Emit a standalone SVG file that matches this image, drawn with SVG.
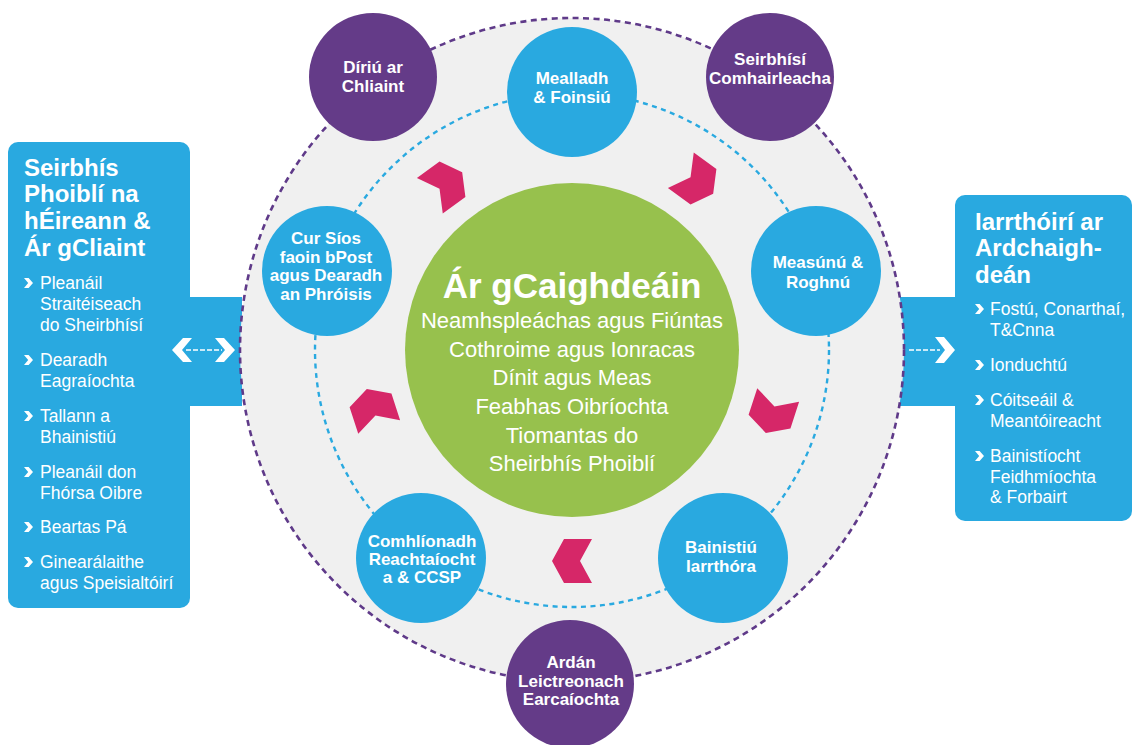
<svg xmlns="http://www.w3.org/2000/svg" xmlns:xlink="http://www.w3.org/1999/xlink" width="1134" height="745" viewBox="0 0 1134 745">
<defs>
<style>
.panel{fill:#29a9e0}
.bc{fill:#29a9e0}
.pc{fill:#643b88}
.t{font-family:"Liberation Sans",Arial,sans-serif;fill:#fff}
.ht{font-size:24px;font-weight:bold}
.li{font-size:17.5px}
.nt{font-size:17px;font-weight:bold;text-anchor:middle}
.ct{font-size:22px;text-anchor:middle}
.chev{fill:#d62768}
.wa{fill:#fff}
.wl{stroke:#fff;stroke-width:1.6;stroke-dasharray:5 2;fill:none}
</style>
<polygon id="chev" points="-20,0 -8,-22 20,-22 8,0 20,22 -8,22"/>
<polygon id="bul" points="0,0 4.6,0 9,5 4.6,10 0,10 4.2,5" fill="#fff"/>
</defs>
<rect width="1134" height="745" fill="#fff"/>

<g id="panel-left">
<rect class="panel" x="8" y="142" width="182" height="466" rx="10"/>
<rect class="panel" x="185" y="297" width="57" height="109"/>
<text class="t ht" x="24" y="176">Seirbhís</text>
<text class="t ht" x="24" y="202">Phoiblí na</text>
<text class="t ht" x="24" y="229">hÉireann &amp;</text>
<text class="t ht" x="24" y="256">Ár gCliaint</text>
<use xlink:href="#bul" x="24" y="278"/>
<text class="t li" x="40" y="289">Pleanáil</text>
<text class="t li" x="40" y="310">Straitéiseach</text>
<text class="t li" x="40" y="331">do Sheirbhísí</text>
<use xlink:href="#bul" x="24" y="355"/>
<text class="t li" x="40" y="366">Dearadh</text>
<text class="t li" x="40" y="387">Eagraíochta</text>
<use xlink:href="#bul" x="24" y="411"/>
<text class="t li" x="40" y="422">Tallann a</text>
<text class="t li" x="40" y="443">Bhainistiú</text>
<use xlink:href="#bul" x="24" y="467"/>
<text class="t li" x="40" y="478">Pleanáil don</text>
<text class="t li" x="40" y="499">Fhórsa Oibre</text>
<use xlink:href="#bul" x="24" y="522"/>
<text class="t li" x="40" y="533">Beartas Pá</text>
<use xlink:href="#bul" x="24" y="557"/>
<text class="t li" x="40" y="568">Ginearálaithe</text>
<text class="t li" x="40" y="589">agus Speisialtóirí</text>
</g>

<g id="panel-right">
<rect class="panel" x="955" y="195" width="177" height="326" rx="10"/>
<rect class="panel" x="900" y="297" width="60" height="109"/>
<text class="t ht" x="975" y="230">Iarrthóirí ar</text>
<text class="t ht" x="975" y="256">Ardchaigh-</text>
<text class="t ht" x="975" y="283">deán</text>
<use xlink:href="#bul" x="975" y="304"/>
<text class="t li" x="990" y="315">Fostú, Conarthaí,</text>
<text class="t li" x="990" y="336">T&amp;Cnna</text>
<use xlink:href="#bul" x="975" y="360"/>
<text class="t li" x="990" y="371">Ionduchtú</text>
<use xlink:href="#bul" x="975" y="395"/>
<text class="t li" x="990" y="406">Cóitseáil &amp;</text>
<text class="t li" x="990" y="427">Meantóireacht</text>
<use xlink:href="#bul" x="975" y="451"/>
<text class="t li" x="990" y="462">Bainistíocht</text>
<text class="t li" x="990" y="483">Feidhmíochta</text>
<text class="t li" x="990" y="503">&amp; Forbairt</text>
</g>

<g id="outer-ring">
<circle cx="572" cy="350" r="332" fill="#f0f0f0" stroke="#5f3a89" stroke-width="2.6" stroke-dasharray="6 4.5"/>
<circle cx="572" cy="350" r="257" fill="none" stroke="#29a9e0" stroke-width="2.4" stroke-dasharray="5 4.5"/>
</g>

<g id="connectors">
<polygon class="wa" points="172,350 183,338 192,338 182,350 192,362 183,362"/>
<line class="wl" x1="186" y1="350" x2="222" y2="350"/>
<polygon class="wa" points="235,350 224,338 215,338 225,350 215,362 224,362"/>
<line class="wl" x1="909" y1="350" x2="940" y2="350"/>
<polygon class="wa" points="955,350 944,337 935,337 945,350 935,363 944,363"/>
</g>

<g id="standards">
<circle cx="572" cy="350" r="167" fill="#97c14d"/>
<text class="t" x="572" y="298" font-size="35" font-weight="bold" text-anchor="middle">Ár gCaighdeáin</text>
<text class="t ct" x="572" y="328">Neamhspleáchas agus Fiúntas</text>
<text class="t ct" x="572" y="357">Cothroime agus Ionracas</text>
<text class="t ct" x="572" y="385">Dínit agus Meas</text>
<text class="t ct" x="572" y="414">Feabhas Oibríochta</text>
<text class="t ct" x="572" y="443">Tiomantas do</text>
<text class="t ct" x="572" y="471">Sheirbhís Phoiblí</text>
</g>

<g id="cycle-arrows" class="chev">
<use xlink:href="#chev" transform="translate(446,184) rotate(144)"/>
<use xlink:href="#chev" transform="translate(697,182) rotate(216)"/>
<use xlink:href="#chev" transform="translate(772,414) rotate(288)"/>
<use xlink:href="#chev" transform="translate(572,561)"/>
<use xlink:href="#chev" transform="translate(373,408) rotate(72)"/>
</g>

<g id="node-mealladh">
<circle class="bc" cx="572" cy="92" r="65"/>
<text class="t nt" x="572" y="84">Mealladh</text>
<text class="t nt" x="572" y="103">&amp; Foinsiú</text>
</g>
<g id="node-measunu">
<circle class="bc" cx="816" cy="271" r="65"/>
<text class="t nt" x="818" y="268">Measúnú &amp;</text>
<text class="t nt" x="818" y="288">Roghnú</text>
</g>
<g id="node-bainistiu">
<circle class="bc" cx="723" cy="558" r="65"/>
<text class="t nt" x="721" y="553">Bainistiú</text>
<text class="t nt" x="721" y="572">Iarrthóra</text>
</g>
<g id="node-comhlionadh">
<circle class="bc" cx="421" cy="558" r="65"/>
<text class="t nt" x="422" y="547">Comhlíonadh</text>
<text class="t nt" x="422" y="565">Reachtaíocht</text>
<text class="t nt" x="422" y="583">a &amp; CCSP</text>
</g>
<g id="node-cursios">
<circle class="bc" cx="327" cy="271" r="65"/>
<text class="t nt" x="326" y="244">Cur Síos</text>
<text class="t nt" x="326" y="263">faoin bPost</text>
<text class="t nt" x="326" y="281">agus Dearadh</text>
<text class="t nt" x="326" y="300">an Phróisis</text>
</g>

<g id="node-diriu">
<circle class="pc" cx="373" cy="77" r="64"/>
<text class="t nt" x="373" y="73">Díriú ar</text>
<text class="t nt" x="373" y="92">Chliaint</text>
</g>
<g id="node-seirbhisi">
<circle class="pc" cx="770" cy="77" r="64"/>
<text class="t nt" x="770" y="65">Seirbhísí</text>
<text class="t nt" x="770" y="84">Comhairleacha</text>
</g>
<g id="node-ardan">
<circle class="pc" cx="570" cy="684" r="64"/>
<text class="t nt" x="571" y="668">Ardán</text>
<text class="t nt" x="571" y="687">Leictreonach</text>
<text class="t nt" x="571" y="705">Earcaíochta</text>
</g>
</svg>
